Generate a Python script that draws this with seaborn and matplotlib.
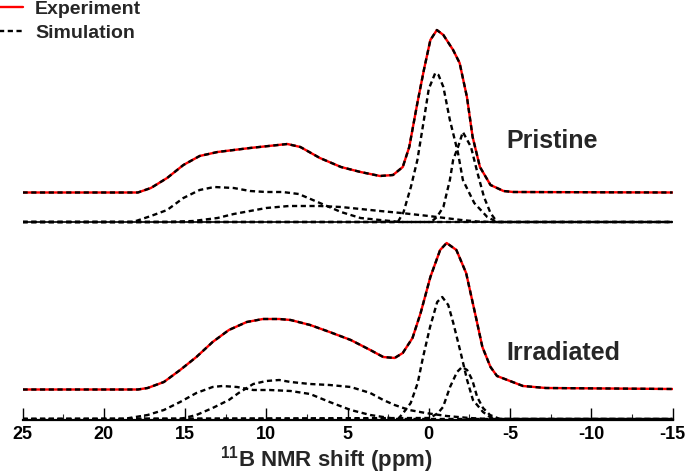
import numpy as np
import pandas as pd
import matplotlib
matplotlib.use("Agg")
import matplotlib.pyplot as plt
import seaborn as sns
from matplotlib.ticker import MultipleLocator

sns.set_theme(style="white")
plt.rcParams['font.family'] = ['Liberation Sans', 'DejaVu Sans']
plt.rcParams['font.weight'] = 'bold'
plt.rcParams['axes.unicode_minus'] = False
plt.rcParams['mathtext.fontset'] = 'custom'
plt.rcParams['mathtext.rm'] = 'Liberation Sans:bold'
plt.rcParams['mathtext.bf'] = 'Liberation Sans:bold'
plt.rcParams['mathtext.default'] = 'rm'

# ---------------- data (11B NMR, intensity in arbitrary units) ----------------
# Pristine: experimental spectrum (simulation total coincides)
pristine_ppm = [25, 17.9, 17.1, 16.1, 15.1, 14.1, 13.0, 12.0, 11.0, 8.7, 7.9, 6.7, 5.4,
                4.2, 3.0, 2.2, 1.6, 1.2, 0.7, 0.3, -0.1, -0.5, -0.9, -1.5, -1.9,
                -2.35, -2.7, -3.15, -3.8, -4.2, -4.6, -5.2, -15]
pristine_exp = [0, 0, 4.5, 14.5, 27.5, 36.5, 40.5, 42.5, 44.5, 48.5, 45.5, 34.5, 25.5,
                20.5, 16.5, 17.5, 25.5, 45.5, 89.5, 122.5, 152.5, 162.5, 157.5, 142.5, 129.5,
                95.5, 55.5, 25.5, 7.5, 4.5, 1.5, 0.5, 0]
pristine_sim = list(pristine_exp)

# Pristine simulation components
p_a_ppm = [25, 18.2, 17.1, 16.1, 15.1, 14.1, 13.2, 12.0, 11.0, 10.0, 9.0, 8.0, 6.7, 5.4, 4.2, 3.0, 1.7, -15]
p_a_val = [0, 0, 6, 12, 24, 32, 35, 34, 31, 30, 30, 28, 19, 10, 4, 2, 0, 0]
p_b_ppm = [25, 16.0, 14.5, 13.0, 12.0, 11.0, 10.0, 8.6, 7.9, 6.7, 5.4, 4.2, 3.0, 1.7, 0.0, -1.0, -2.0, -3.0, -4.0, -15]
p_b_val = [0, 0, 1, 4, 8, 11, 14, 16, 16, 16, 15, 13, 11, 9, 6, 4, 2, 0.5, 0, 0]
p_c_ppm = [25, 1.9, 1.55, 1.1, 0.7, 0.3, 0.0, -0.4, -0.6, -0.9, -1.3, -1.8, -2.1, -2.8, -3.6, -4.2, -15]
p_c_val = [0, 0, 10, 35, 62, 102, 133, 149, 147, 135, 102, 69, 42, 19, 5, 0, 0]
p_d_ppm = [25, -0.15, -0.5, -0.9, -1.3, -1.5, -1.8, -2.1, -2.6, -3.0, -3.4, -3.8, -4.2, -15]
p_d_val = [0, 0, 5, 15, 42, 62, 75, 90, 75, 49, 25, 9, 0, 0]

# Irradiated: experimental spectrum (simulation total coincides)
irr_ppm = [25, 17.9, 17.3, 16.3, 15.3, 14.3, 13.3, 12.3, 11.2, 10.2, 9.2, 8.5, 7.3, 6.1,
           4.8, 3.6, 2.8, 2.1, 1.6, 1.2, 1.0, 0.5, -0.1, -0.7, -1.1, -1.7, -2.3,
           -2.9, -3.3, -3.8, -4.2, -5.0, -5.8, -7.2, -15]
irr_exp = [0, 0, 1.5, 7.5, 19.5, 32.5, 47.5, 59.5, 67.5, 70.5, 70.5, 69.5, 64.5, 57.5,
           49.5, 39.5, 32.5, 31.5, 36.5, 46.5, 51.5, 76.5, 112.5, 139.5, 146.5, 139.5, 116.5,
           72.5, 42.5, 22.5, 13.5, 8.5, 3.5, 1.5, 0.5]
irr_sim = list(irr_exp)

# Irradiated simulation components
i_a_ppm = [25, 18.8, 17.3, 16.3, 15.3, 14.3, 13.3, 12.7, 11.8, 10.8, 9.8, 8.5, 7.3, 6.1, 4.8, 3.6, 2.4, 2.0, -15]
i_a_val = [0, 0, 4, 9, 17, 26, 32, 33, 32, 29, 29, 28, 25, 17, 9, 4, 1, 0, 0]
i_b_ppm = [25, 15.3, 14.3, 13.3, 12.3, 11.7, 10.8, 10.0, 9.2, 8.5, 7.3, 6.1, 4.8, 3.6, 2.8, 2.1, 1.2, 0.2, -1.1, -2.5, -3.7, -15]
i_b_val = [0, 0, 4, 11, 19, 26, 35, 38, 39, 37, 35, 34, 32, 26, 19, 14, 9, 6, 3, 1, 0, 0]
i_c_ppm = [25, 1.89, 1.57, 1.11, 0.68, 0.35, -0.08, -0.52, -0.83, -1.2, -1.51, -1.97, -2.36, -2.72, -3.34, -3.77, -4.2, -15]
i_c_val = [0, 0, 6, 16, 36, 62, 92, 117, 122, 114, 96, 66, 39, 19, 7, 2, 0, 0]
i_d_ppm = [25, -0.08, -0.57, -0.88, -1.31, -1.74, -2.05, -2.36, -2.68, -2.98, -3.34, -3.77, -4.38, -15]
i_d_val = [0, 1, 6, 12, 32, 47, 52, 49, 39, 22, 11, 4, 0, 0]

x_ticks = [25, 20, 15, 10, 5, 0, -5, -10, -15]

# ---------------- layout / style ----------------
PRISTINE_BASE = 197.0   # vertical offset of the pristine stack
TOTAL_LIFT = 29.5       # offset of the total spectrum above its components
RED = '#ff0000'
DASH = (0, (2.2, 1.5))
LW = 1.7

fig = plt.figure(figsize=(6.85, 4.76), dpi=100)
ax = fig.add_axes([22.5 / 685, 56 / 476, 650 / 685, 420 / 476])


def draw(xs, ys, base, **kw):
    sns.lineplot(x=np.asarray(xs, float), y=np.asarray(ys, float) + base, ax=ax,
                 estimator=None, errorbar=None, legend=False, sort=False, **kw)


# component baseline of pristine stack
ax.axhline(PRISTINE_BASE, color='black', lw=1.2, zorder=1)

for xs, ys in [(p_a_ppm, p_a_val), (p_b_ppm, p_b_val), (p_c_ppm, p_c_val), (p_d_ppm, p_d_val)]:
    draw(xs, ys, PRISTINE_BASE, color='black', linestyle=DASH, lw=LW)
for xs, ys in [(i_a_ppm, i_a_val), (i_b_ppm, i_b_val), (i_c_ppm, i_c_val), (i_d_ppm, i_d_val)]:
    draw(xs, ys, 0.0, color='black', linestyle=DASH, lw=LW)

draw(pristine_ppm, pristine_exp, PRISTINE_BASE + TOTAL_LIFT, color=RED, lw=LW, label='Experiment')
draw(pristine_ppm, pristine_sim, PRISTINE_BASE + TOTAL_LIFT, color='black', linestyle=DASH, lw=LW,
     label='Simulation')
draw(irr_ppm, irr_exp, TOTAL_LIFT, color=RED, lw=LW)
draw(irr_ppm, irr_sim, TOTAL_LIFT, color='black', linestyle=DASH, lw=LW)

ax.set_xlim(25, -15)
ax.set_ylim(-1, 419)
ax.set_yticks([])
ax.set_ylabel('')
ax.set_xticks(x_ticks)
ax.set_xticklabels([str(t) for t in x_ticks])
ax.xaxis.set_minor_locator(MultipleLocator(2.5))
ax.tick_params(axis='x', which='major', direction='in', length=9, width=1.0,
               labelsize=13, pad=4, colors='black', bottom=True)
ax.tick_params(axis='x', which='minor', direction='in', length=4.5, width=0.8, bottom=True)
for side in ['left', 'top', 'right']:
    ax.spines[side].set_visible(False)
ax.spines['bottom'].set_linewidth(1.6)
ax.spines['bottom'].set_color('black')
ax.set_xlabel(r'$^{11}$B NMR shift (ppm)', fontsize=16, fontweight='bold', labelpad=1, x=0.468)
ax.patch.set_alpha(0)

ax.text(-4.8, 278, 'Pristine', fontsize=18, fontweight='bold', ha='left', va='center')
ax.text(-4.8, 66, 'Irradiated', fontsize=18, fontweight='bold', ha='left', va='center')

h = [ax.lines[-4], ax.lines[-3]]
fig.legend(handles=h, labels=['Experiment', 'Simulation'], loc='upper left',
           bbox_to_anchor=(-0.003, 1.0), frameon=False,
           prop={'size': 14, 'weight': 'bold'}, handlelength=1.3, handletextpad=0.6,
           labelspacing=0.35, borderpad=0, borderaxespad=0)

fig.savefig('out.png', dpi=100)
